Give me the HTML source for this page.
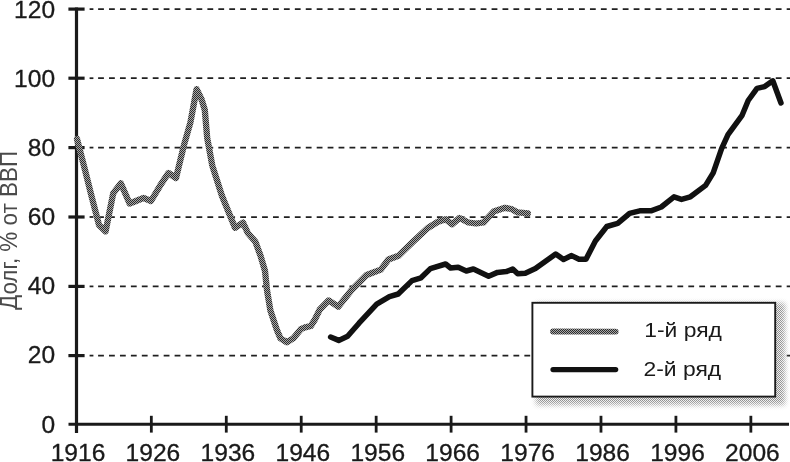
<!DOCTYPE html>
<html><head><meta charset="utf-8"><style>
html,body{margin:0;padding:0;background:#fff;}
body{width:790px;height:462px;overflow:hidden;}
svg{display:block;filter:grayscale(1)}
text{font-family:"Liberation Sans",sans-serif;}
.ax{font-size:23.2px;fill:#1a1a1a;stroke:#1a1a1a;stroke-width:0.3px;}
.lg{font-size:21px;fill:#1a1a1a;}
</style></head><body>
<svg width="790" height="462" viewBox="0 0 790 462">
<defs><pattern id="ht2" patternUnits="userSpaceOnUse" width="2" height="2"><rect width="2" height="2" fill="#eeeeee"/><rect x="0" y="0" width="1" height="1" fill="#909090"/><rect x="1" y="1" width="1" height="1" fill="#909090"/></pattern><mask id="shm" maskUnits="userSpaceOnUse" x="510" y="285" width="280" height="140"><rect x="536" y="303" width="249" height="102" fill="#fff" filter="url(#sh)"/></mask><pattern id="ht" patternUnits="userSpaceOnUse" width="2" height="2"><rect width="2" height="2" fill="#a8a8a8"/><rect x="0" y="0" width="1" height="1" fill="#2c2c2c"/><rect x="1" y="1" width="1" height="1" fill="#2c2c2c"/></pattern><filter id="sh" x="-10%" y="-20%" width="120%" height="140%"><feGaussianBlur stdDeviation="2.6"/></filter></defs>
<rect width="790" height="462" fill="#fff"/>
<line x1="89.6" y1="355.6" x2="93.4" y2="355.6" stroke="#202020" stroke-width="1.75"/><line x1="98.1" y1="355.6" x2="790" y2="355.6" stroke="#202020" stroke-width="1.75" stroke-dasharray="5.8 5.13"/>
<line x1="68.4" y1="355.6" x2="84.6" y2="355.6" stroke="#1a1a1a" stroke-width="3.2"/>
<line x1="89.6" y1="286.4" x2="93.4" y2="286.4" stroke="#202020" stroke-width="1.75"/><line x1="98.1" y1="286.4" x2="790" y2="286.4" stroke="#202020" stroke-width="1.75" stroke-dasharray="5.8 5.13"/>
<line x1="68.4" y1="286.4" x2="84.6" y2="286.4" stroke="#1a1a1a" stroke-width="3.2"/>
<line x1="89.6" y1="217.0" x2="93.4" y2="217.0" stroke="#202020" stroke-width="1.75"/><line x1="98.1" y1="217.0" x2="790" y2="217.0" stroke="#202020" stroke-width="1.75" stroke-dasharray="5.8 5.13"/>
<line x1="68.4" y1="217.0" x2="84.6" y2="217.0" stroke="#1a1a1a" stroke-width="3.2"/>
<line x1="89.6" y1="147.6" x2="93.4" y2="147.6" stroke="#202020" stroke-width="1.75"/><line x1="98.1" y1="147.6" x2="790" y2="147.6" stroke="#202020" stroke-width="1.75" stroke-dasharray="5.8 5.13"/>
<line x1="68.4" y1="147.6" x2="84.6" y2="147.6" stroke="#1a1a1a" stroke-width="3.2"/>
<line x1="89.6" y1="78.2" x2="93.4" y2="78.2" stroke="#202020" stroke-width="1.75"/><line x1="98.1" y1="78.2" x2="790" y2="78.2" stroke="#202020" stroke-width="1.75" stroke-dasharray="5.8 5.13"/>
<line x1="68.4" y1="78.2" x2="84.6" y2="78.2" stroke="#1a1a1a" stroke-width="3.2"/>
<line x1="89.6" y1="9.1" x2="93.4" y2="9.1" stroke="#202020" stroke-width="1.75"/><line x1="98.1" y1="9.1" x2="790" y2="9.1" stroke="#202020" stroke-width="1.75" stroke-dasharray="5.8 5.13"/>
<line x1="68.4" y1="9.1" x2="84.6" y2="9.1" stroke="#1a1a1a" stroke-width="3.2"/>

<line x1="76.5" y1="7.4" x2="76.5" y2="433" stroke="#1a1a1a" stroke-width="3.2"/>
<line x1="68.5" y1="424.3" x2="789" y2="424.3" stroke="#1a1a1a" stroke-width="3"/>
<line x1="76.40" y1="415.8" x2="76.40" y2="432.6" stroke="#1a1a1a" stroke-width="2.8"/>
<text transform="translate(78.00,460.7) scale(1.06,1)" text-anchor="middle" class="ax">1916</text>
<line x1="151.34" y1="415.8" x2="151.34" y2="432.6" stroke="#1a1a1a" stroke-width="2.8"/>
<text transform="translate(152.94,460.7) scale(1.06,1)" text-anchor="middle" class="ax">1926</text>
<line x1="226.28" y1="415.8" x2="226.28" y2="432.6" stroke="#1a1a1a" stroke-width="2.8"/>
<text transform="translate(227.88,460.7) scale(1.06,1)" text-anchor="middle" class="ax">1936</text>
<line x1="301.22" y1="415.8" x2="301.22" y2="432.6" stroke="#1a1a1a" stroke-width="2.8"/>
<text transform="translate(302.82,460.7) scale(1.06,1)" text-anchor="middle" class="ax">1946</text>
<line x1="376.16" y1="415.8" x2="376.16" y2="432.6" stroke="#1a1a1a" stroke-width="2.8"/>
<text transform="translate(377.76,460.7) scale(1.06,1)" text-anchor="middle" class="ax">1956</text>
<line x1="451.10" y1="415.8" x2="451.10" y2="432.6" stroke="#1a1a1a" stroke-width="2.8"/>
<text transform="translate(452.70,460.7) scale(1.06,1)" text-anchor="middle" class="ax">1966</text>
<line x1="526.04" y1="415.8" x2="526.04" y2="432.6" stroke="#1a1a1a" stroke-width="2.8"/>
<text transform="translate(527.64,460.7) scale(1.06,1)" text-anchor="middle" class="ax">1976</text>
<line x1="600.98" y1="415.8" x2="600.98" y2="432.6" stroke="#1a1a1a" stroke-width="2.8"/>
<text transform="translate(602.58,460.7) scale(1.06,1)" text-anchor="middle" class="ax">1986</text>
<line x1="675.92" y1="415.8" x2="675.92" y2="432.6" stroke="#1a1a1a" stroke-width="2.8"/>
<text transform="translate(677.52,460.7) scale(1.06,1)" text-anchor="middle" class="ax">1996</text>
<line x1="750.86" y1="415.8" x2="750.86" y2="432.6" stroke="#1a1a1a" stroke-width="2.8"/>
<text transform="translate(752.46,460.7) scale(1.06,1)" text-anchor="middle" class="ax">2006</text>

<text transform="translate(55.1,432.55) scale(1.06,1)" text-anchor="end" class="ax">0</text>
<text transform="translate(55.1,363.46) scale(1.06,1)" text-anchor="end" class="ax">20</text>
<text transform="translate(55.1,294.37) scale(1.06,1)" text-anchor="end" class="ax">40</text>
<text transform="translate(55.1,225.28) scale(1.06,1)" text-anchor="end" class="ax">60</text>
<text transform="translate(55.1,156.19) scale(1.06,1)" text-anchor="end" class="ax">80</text>
<text transform="translate(55.1,87.10) scale(1.06,1)" text-anchor="end" class="ax">100</text>
<text transform="translate(55.1,18.01) scale(1.06,1)" text-anchor="end" class="ax">120</text>

<text id="yl" transform="translate(17.3,230.5) rotate(-90) scale(0.967,1)" text-anchor="middle" style="font-size:23.2px;fill:#4a4a4a">Долг, % от ВВП</text>
<polyline points="77,139 84.5,168 92,198 99,225 105.6,231.4 113.2,193.4 120.8,183.3 129.6,203.5 136,201 143.5,198 151,201 160,185.8 168.4,173 176,178 184,145 190.4,122.5 196.6,89.2 201.6,99.5 204.8,110 207.2,138 212.3,165.6 222,196 235,227.8 243,222.6 247.8,233 255.4,241.8 260.5,255.7 265,271 267,290.3 270.4,310.5 276.7,329.5 280.5,338.4 286.8,342.2 293.2,338.4 300.8,329.2 305,327.4 310.8,326 314.6,320 319.6,309.8 328.6,300.4 338.2,306.7 351.4,290.3 366.6,275 380.8,269.6 388.4,259.5 398.5,255.7 412.7,242 427.8,228 438,221.8 445.6,219.2 452,224.3 459.5,218 468.4,222.5 476,223.5 483.5,222.5 493.7,211.6 505,207.8 511.4,209 517.7,212.4 527.8,213.4" fill="none" stroke="url(#ht)" stroke-width="6.3" stroke-linejoin="round" stroke-linecap="round"/>
<polyline points="330.6,337 338.7,340.4 347.6,336.3 359,323.2 376.7,304.2 389.4,296.6 398.2,294 412,280.6 421,277.8 430.4,268.6 445.6,264 450.6,268 458.2,267.3 466.3,271 473.4,269 488.6,276.2 497.5,272.4 506.3,271.6 512.7,269 517.7,273.7 525.3,273.2 535.4,268.6 555.7,254 563.5,259.4 571.6,255.6 579,259.2 586,259.2 595.4,241 606.8,226.5 617.7,223.4 629.6,213.3 639.7,210.8 651,210.8 661.3,207 674,196.8 681.5,199.4 690.4,196.8 705.6,185.4 713.2,172.8 721.6,148.6 728,134.7 741.9,115.7 748.2,100.5 757,88.4 764.7,86.6 772.8,80.8 781,103" fill="none" stroke="#111" stroke-width="5.5" stroke-linejoin="round" stroke-linecap="round"/>
<rect x="520" y="290" width="270" height="130" fill="url(#ht2)" mask="url(#shm)"/>
<rect x="532.4" y="302.8" width="242.8" height="93.8" fill="#fff" stroke="#1a1a1a" stroke-width="1.9"/>
<line x1="553" y1="331.5" x2="615.7" y2="331.6" stroke="url(#ht)" stroke-width="5.8" stroke-linecap="round"/>
<line x1="553" y1="369.6" x2="615.7" y2="369.6" stroke="#111" stroke-width="5.2" stroke-linecap="round"/>
<text id="l1" transform="translate(644.2,336.8) scale(1.09,1)" class="lg">1-й ряд</text>
<text id="l2" transform="translate(643.5,376.0) scale(1.09,1)" class="lg">2-й ряд</text>
</svg>
</body></html>
